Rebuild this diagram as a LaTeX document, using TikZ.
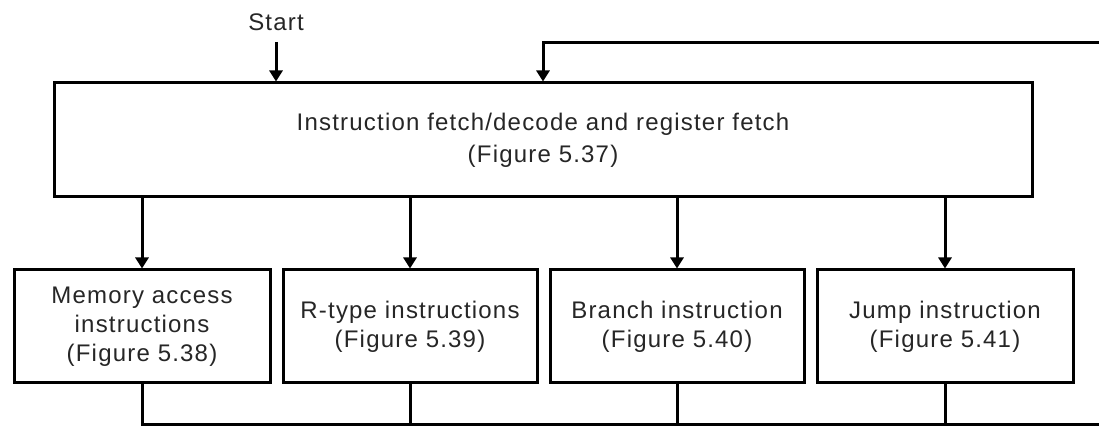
\documentclass[tikz,border=0pt]{standalone}
\usepackage{fontspec}
\setmainfont{Liberation Sans}[LetterSpace=5]
\usepackage{tikz}
\usetikzlibrary{arrows.meta,positioning,calc}

\begin{document}
\begin{tikzpicture}[
  x=0.5pt, y=-0.5pt, >={Triangle[width=6.5pt,length=5.5pt]},
  block/.style={draw=black, line width=1.5pt, fill=white, minimum height=56.5pt, text=black!85, font=\fontsize{12}{14.5}\selectfont, align=center, inner sep=2pt},
  arrow/.style={->, line width=1.5pt, black},
  line/.style={line width=1.5pt, black}
]
\useasboundingbox (0,0) rectangle (1099,427);

\node[block, minimum width=489pt, minimum height=57pt, font=\fontsize{12}{16}\selectfont] (main) at (543,140) {Instruction fetch/decode and register fetch\\(Figure 5.37)};
\node[block, minimum width=128pt] (mem) at (142,326.5) {Memory access\\instructions\\(Figure 5.38)};
\node[block, minimum width=127pt] (rtype) at (410,326.5) {R-type instructions\\(Figure 5.39)};
\node[block, minimum width=127pt] (branch) at (677,326.5) {Branch instruction\\(Figure 5.40)};
\node[block, minimum width=128pt] (jump) at (945,326.5) {Jump instruction\\(Figure 5.41)};

\node[text=black!85, font=\fontsize{12}{16}\selectfont] (start) at (276,22) {Start};
\coordinate (s0) at (276,42);
\coordinate (rb) at (1115,425);
\coordinate (rt) at (1115,43);

\draw[arrow] (s0) -- (s0 |- main.north);
\draw[arrow] (main.south -| mem) -- (mem);
\draw[arrow] (main.south -| rtype) -- (rtype);
\draw[arrow] (main.south -| branch) -- (branch);
\draw[arrow] (main.south -| jump) -- (jump);

% back to fetch
\draw[line] (mem.south) -- (mem.south |- rb) -- (rb);
\draw[line] (rtype.south) -- (rtype.south |- rb);
\draw[line] (branch.south) -- (branch.south |- rb);
\draw[line] (jump.south) -- (jump.south |- rb);
\draw[arrow] (rb) -- (rt) -- (main.north |- rt) -- (main.north);

\end{tikzpicture}
\end{document}
